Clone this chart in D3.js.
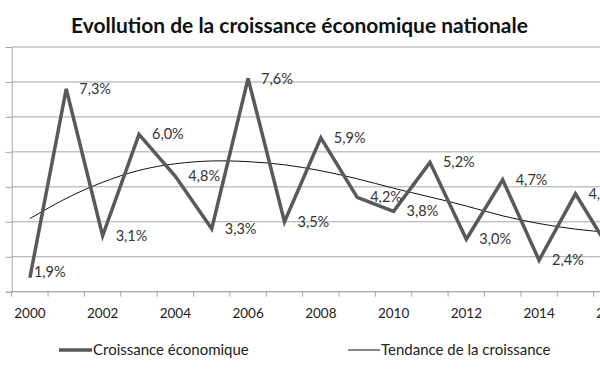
<!DOCTYPE html>
<html>
<head>
<meta charset="utf-8">
<script src="https://cdn.jsdelivr.net/npm/d3@7"></script>
<style>
  body { margin: 0; background: #fff; }
  text { font-family: Lato, "Open Sans", sans-serif; }
</style>
</head>
<body>
<script>
// chart values
var years = [2000, 2001, 2002, 2003, 2004, 2005, 2006, 2007, 2008,
             2009, 2010, 2011, 2012, 2013, 2014, 2015, 2016];
var growth = [1.9, 7.3, 3.1, 6.0, 4.8, 3.3, 7.6, 3.5, 5.9,
              4.2, 3.8, 5.2, 3.0, 4.7, 2.4, 4.3, 2.6];
// trend curve, read at each year
var trend = [3.59, 4.17, 4.63, 4.97, 5.16, 5.24, 5.22, 5.13, 4.96,
             4.73, 4.46, 4.21, 3.95, 3.67, 3.45, 3.29, 3.19];
var yTicks = [1.5, 2.5, 3.5, 4.5, 5.5, 6.5, 7.5, 8.5];
var xLabels = [2000, 2002, 2004, 2006, 2008, 2010, 2012, 2014, 2016];
var seriesNames = ["Croissance économique", "Tendance de la croissance"];
var titleText = "Evollution de la croissance économique nationale";

var w = 600, h = 372;
var plotLeft = 11.7, plotTop = 47, plotBottom = 291.7, step = 36.37;

var svg = d3.select("body").append("svg")
  .attr("width", w)
  .attr("height", h);

// scales
var x = d3.scaleBand()
  .domain(years)
  .range([plotLeft, plotLeft + years.length * step]);

var y = d3.scaleLinear()
  .domain([yTicks[0], yTicks[yTicks.length - 1]])
  .range([plotBottom, plotTop]);

function cx(d) { return x(d) + x.bandwidth() / 2; }

// horizontal gridlines
svg.append("g")
  .selectAll("line")
  .data(yTicks)
  .enter().append("line")
  .attr("x1", plotLeft)
  .attr("x2", w)
  .attr("y1", function(d) { return y(d); })
  .attr("y2", function(d) { return y(d); })
  .style("stroke", "#a6a6a6")
  .style("stroke-width", 1);

// y axis, labels are cut off in the original
svg.append("g")
  .attr("transform", "translate(" + plotLeft + ",0)")
  .call(d3.axisLeft(y).tickValues(yTicks).tickSize(6).tickFormat(""))
  .call(function(g) {
    g.selectAll("line, path").style("stroke", "#a6a6a6");
  });

// x axis line and tick marks between categories
var xAxis = svg.append("g")
  .attr("transform", "translate(0," + plotBottom + ")");

xAxis.append("line")
  .attr("x1", plotLeft).attr("x2", w)
  .style("stroke", "#a6a6a6");

xAxis.selectAll(".tickmark")
  .data(years)
  .enter().append("line")
  .attr("class", "tickmark")
  .attr("x1", function(d) { return x(d); })
  .attr("x2", function(d) { return x(d); })
  .attr("y1", 0).attr("y2", 5)
  .style("stroke", "#a6a6a6");

xAxis.call(d3.axisBottom(x).tickValues(xLabels).tickSize(0).tickPadding(17))
  .call(function(g) {
    g.select(".domain").remove();
    g.selectAll("text")
      .style("font-size", "13.5px")
      .style("fill", "#222");
  });

// trend line
var trendLine = d3.line()
  .x(function(d, i) { return cx(years[i]); })
  .y(function(d) { return y(d); })
  .curve(d3.curveNatural);

svg.append("path")
  .datum(trend)
  .attr("d", trendLine)
  .style("fill", "none")
  .style("stroke", "#111")
  .style("stroke-width", 1);

// growth line
var growthLine = d3.line()
  .x(function(d, i) { return cx(years[i]); })
  .y(function(d) { return y(d); });

svg.append("path")
  .datum(growth)
  .attr("d", growthLine)
  .style("fill", "none")
  .style("stroke", "#595959")
  .style("stroke-width", 3.5)
  .style("stroke-linejoin", "miter");

// data labels
var fmt = d3.format(".1f");
svg.append("g")
  .selectAll("text")
  .data(growth)
  .enter().append("text")
  .attr("x", function(d, i) { return cx(years[i]) + (i === 0 ? 4 : 13); })
  .attr("y", function(d, i) { return y(d) - (i === 0 ? 6 : 0); })
  .attr("dy", "0.35em")
  .style("font-size", "14.5px")
  .style("fill", "#333")
  .text(function(d) { return fmt(d).replace(".", ",") + "%"; });

// title, fitted to the width seen in the picture
var title = svg.append("text")
  .attr("x", 299.5)
  .attr("y", 33)
  .attr("text-anchor", "middle")
  .style("font-size", "20px")
  .style("font-weight", "bold")
  .style("fill", "#111")
  .text(titleText);
var tw = title.node().getComputedTextLength();
title.style("font-size", (20 * 457 / tw) + "px");

// legend
var legend = svg.append("g");
legend.append("line")
  .attr("x1", 59).attr("x2", 92)
  .attr("y1", 350).attr("y2", 350)
  .style("stroke", "#595959")
  .style("stroke-width", 3.5);
legend.append("text")
  .attr("x", 93).attr("y", 350)
  .attr("dy", "0.35em")
  .style("font-size", "15px")
  .style("fill", "#222")
  .text(seriesNames[0]);
legend.append("line")
  .attr("x1", 348).attr("x2", 380)
  .attr("y1", 350).attr("y2", 350)
  .style("stroke", "#111")
  .style("stroke-width", 1);
legend.append("text")
  .attr("x", 381).attr("y", 350)
  .attr("dy", "0.35em")
  .style("font-size", "15px")
  .style("fill", "#222")
  .text(seriesNames[1]);
</script>
</body>
</html>
